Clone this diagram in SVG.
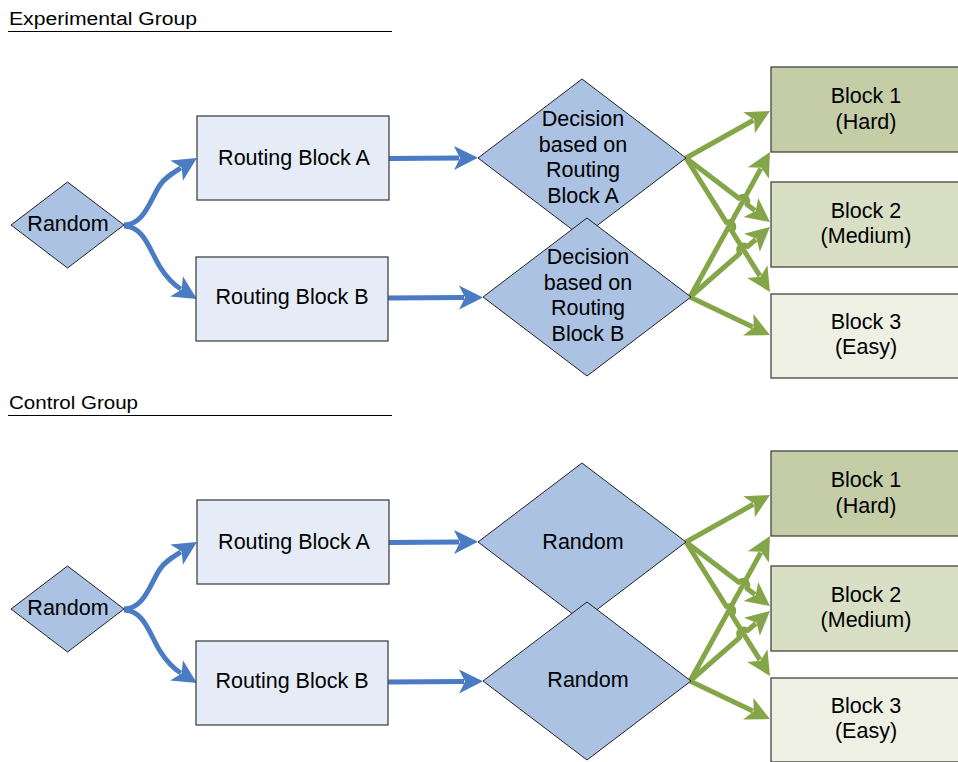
<svg xmlns="http://www.w3.org/2000/svg" width="958" height="762" viewBox="0 0 958 762">
<style>
.t{font-family:"Liberation Sans",Arial,sans-serif;font-size:21.5px;fill:#000;text-anchor:middle}
.ttl{font-family:"Liberation Sans",Arial,sans-serif;font-size:18px;fill:#000}
.hr{stroke:#000;stroke-width:1}
.dia{fill:#abc2e3;stroke:#222;stroke-width:1}
.rb{fill:#e6ecf7;stroke:#444;stroke-width:1.3}
.b1{fill:#c5cda7;stroke:#444;stroke-width:1.3}
.b2{fill:#d8dfc4;stroke:#444;stroke-width:1.3}
.b3{fill:#eef0e3;stroke:#444;stroke-width:1.3}
.blue{fill:none;stroke:#4a7bc3;stroke-width:5;marker-end:url(#ab)}
.green{fill:none;stroke:#84a548;stroke-width:5;marker-end:url(#ag);stroke-linejoin:round}
</style>
<defs>
<marker id="ab" markerUnits="userSpaceOnUse" viewBox="-2 -14 30 28" markerWidth="30" markerHeight="28" refX="5" refY="0" orient="auto"><path d="M0,-12 L24,0 L0,12 L6,0 Z" fill="#4a7bc3"/></marker>
<marker id="ag" markerUnits="userSpaceOnUse" viewBox="-2 -14 30 28" markerWidth="30" markerHeight="28" refX="5" refY="0" orient="auto"><path d="M0,-12 L24,0 L0,12 L6,0 Z" fill="#84a548"/></marker>
</defs>

<g id="title-experimental">
<text class="ttl" x="9" y="25" textLength="188" lengthAdjust="spacingAndGlyphs">Experimental Group</text>
<line class="hr" x1="8" y1="31.5" x2="392" y2="31.5"/>
</g>
<g id="title-control">
<text class="ttl" x="9" y="409" textLength="129" lengthAdjust="spacingAndGlyphs">Control Group</text>
<line class="hr" x1="8" y1="415.5" x2="392" y2="415.5"/>
</g>

<g id="connectors">
<path class="blue" d="M124,225 C144,225 150,200 160,185 C165,177.5 172.3,173.3 180.8,168"/>
<path class="blue" d="M124,226 C144,226 150,251 160,267 C165,275 172.3,283.7 180.8,289"/>
<path class="blue" d="M389,158.5 L459,158"/>
<path class="blue" d="M388,298 L464,297.5"/>
<path class="green" d="M686,158 L753.4,120.3"/>
<path class="green" d="M686,158 L738.8,198.3 A5,5 0 0 1 746.8,204.3 L754.9,210.5"/>
<path class="green" d="M686,158 L726.3,222.4 A5,5 0 0 1 731.7,230.8 L759.9,275.9"/>
<path class="green" d="M690,297 L760.8,168.6"/>
<path class="green" d="M690,297 L739.9,253.3 A5,5 0 0 1 747.5,246.7 L755.7,239.5"/>
<path class="green" d="M690,297 L752.8,326.9"/>

<path class="blue" d="M124,609 C144,609 150,584 160,569 C165,561.5 172.3,557.3 180.8,552"/>
<path class="blue" d="M124,610 C144,610 150,635 160,651 C165,659 172.3,667.7 180.8,673"/>
<path class="blue" d="M389,542.5 L459,542"/>
<path class="blue" d="M388,682 L464,681.5"/>
<path class="green" d="M686,542 L753.4,504.3"/>
<path class="green" d="M686,542 L738.8,582.3 A5,5 0 0 1 746.8,588.3 L754.9,594.5"/>
<path class="green" d="M686,542 L726.3,606.4 A5,5 0 0 1 731.7,614.8 L759.9,659.9"/>
<path class="green" d="M690,681 L760.8,552.6"/>
<path class="green" d="M690,681 L739.9,637.3 A5,5 0 0 1 747.5,630.7 L755.7,623.5"/>
<path class="green" d="M690,681 L752.8,710.9"/>
</g>

<g id="exp-random">
<polygon class="dia" points="11,225 67.5,182 124,225 67.5,268"/>
<text class="t" x="68" y="231">Random</text>
</g>
<g id="exp-routing-a">
<rect class="rb" x="197" y="116" width="192" height="84"/>
<text class="t" x="294" y="165">Routing Block A</text>
</g>
<g id="exp-routing-b">
<rect class="rb" x="196" y="257" width="192" height="84"/>
<text class="t" x="292" y="304">Routing Block B</text>
</g>
<g id="exp-decision-a">
<polygon class="dia" points="478,158 582,79 686,158 582,237"/>
<text class="t" x="583" y="126">Decision</text>
<text class="t" x="583" y="152">based on</text>
<text class="t" x="583" y="177">Routing</text>
<text class="t" x="583" y="203">Block A</text>
</g>
<g id="exp-decision-b">
<polygon class="dia" points="483,297 587,218 691,297 587,376"/>
<text class="t" x="588" y="264">Decision</text>
<text class="t" x="588" y="290">based on</text>
<text class="t" x="588" y="315">Routing</text>
<text class="t" x="588" y="341">Block B</text>
</g>
<g id="exp-block1">
<rect class="b1" x="771" y="67" width="200" height="85"/>
<text class="t" x="866" y="103">Block 1</text>
<text class="t" x="866" y="129">(Hard)</text>
</g>
<g id="exp-block2">
<rect class="b2" x="771" y="182" width="200" height="85"/>
<text class="t" x="866" y="218">Block 2</text>
<text class="t" x="866" y="243">(Medium)</text>
</g>
<g id="exp-block3">
<rect class="b3" x="771" y="294" width="200" height="84"/>
<text class="t" x="866" y="329">Block 3</text>
<text class="t" x="866" y="354">(Easy)</text>
</g>

<g id="ctl-random">
<polygon class="dia" points="11,609 67.5,566 124,609 67.5,652"/>
<text class="t" x="68" y="615">Random</text>
</g>
<g id="ctl-routing-a">
<rect class="rb" x="197" y="500" width="192" height="84"/>
<text class="t" x="294" y="549">Routing Block A</text>
</g>
<g id="ctl-routing-b">
<rect class="rb" x="196" y="641" width="192" height="84"/>
<text class="t" x="292" y="688">Routing Block B</text>
</g>
<g id="ctl-random-a">
<polygon class="dia" points="478,542 582,463 686,542 582,621"/>
<text class="t" x="583" y="549">Random</text>
</g>
<g id="ctl-random-b">
<polygon class="dia" points="483,681 587,602 691,681 587,760"/>
<text class="t" x="588" y="687">Random</text>
</g>
<g id="ctl-block1">
<rect class="b1" x="771" y="451" width="200" height="85"/>
<text class="t" x="866" y="487">Block 1</text>
<text class="t" x="866" y="513">(Hard)</text>
</g>
<g id="ctl-block2">
<rect class="b2" x="771" y="566" width="200" height="85"/>
<text class="t" x="866" y="602">Block 2</text>
<text class="t" x="866" y="627">(Medium)</text>
</g>
<g id="ctl-block3">
<rect class="b3" x="771" y="678" width="200" height="84"/>
<text class="t" x="866" y="713">Block 3</text>
<text class="t" x="866" y="738">(Easy)</text>
</g>
</svg>
